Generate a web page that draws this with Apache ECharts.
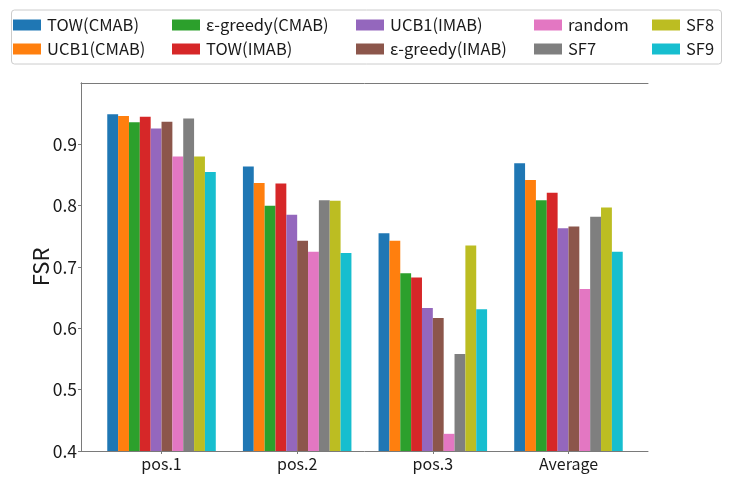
<!DOCTYPE html>
<html>
<head>
<meta charset="utf-8">
<script src="https://cdn.jsdelivr.net/npm/echarts@6/dist/echarts.min.js"></script>
<style>html,body{margin:0;padding:0;background:#fff;}#c{width:731px;height:483px;}</style>
</head>
<body>
<div id="c"></div>
<script>
const categories = ['pos.1', 'pos.2', 'pos.3', 'Average'];
const seriesNames = ['TOW(CMAB)', 'UCB1(CMAB)', 'ε-greedy(CMAB)', 'TOW(IMAB)', 'UCB1(IMAB)', 'ε-greedy(IMAB)', 'random', 'SF7', 'SF8', 'SF9'];
const colors = ['#1f77b4', '#ff7f0e', '#2ca02c', '#d62728', '#9467bd', '#8c564b', '#e377c2', '#7f7f7f', '#bcbd22', '#17becf'];
const towCMAB    = [0.949, 0.864, 0.755, 0.869];
const ucb1CMAB   = [0.946, 0.837, 0.743, 0.842];
const egreedyCMAB= [0.936, 0.800, 0.690, 0.809];
const towIMAB    = [0.945, 0.836, 0.683, 0.821];
const ucb1IMAB   = [0.926, 0.785, 0.633, 0.763];
const egreedyIMAB= [0.937, 0.743, 0.617, 0.766];
const randomSel  = [0.880, 0.725, 0.428, 0.664];
const sf7        = [0.942, 0.809, 0.558, 0.782];
const sf8        = [0.880, 0.808, 0.735, 0.797];
const sf9        = [0.855, 0.723, 0.631, 0.725];
const seriesData = [towCMAB, ucb1CMAB, egreedyCMAB, towIMAB, ucb1IMAB, egreedyIMAB, randomSel, sf7, sf8, sf9];
const yTicks = [0.4, 0.5, 0.6, 0.7, 0.8, 0.9];

const FONT = '"Noto Sans CJK JP", sans-serif';
const TXT = '#1a1a1a';
const FRAME = '#7a7a7a';

const chart = echarts.init(document.getElementById('c'));

const legendLefts = [13, 172, 356, 534, 652];
const legends = legendLefts.map((l, i) => ({
  orient: 'vertical',
  left: l,
  top: 16,
  padding: 0,
  itemWidth: 28,
  itemHeight: 11,
  itemGap: 6,
  icon: 'rect',
  textStyle: { fontFamily: FONT, fontSize: 16.5, color: TXT, lineHeight: 18, padding: [0, 0, 0, 1] },
  data: [seriesNames[2 * i], seriesNames[2 * i + 1]],
  selectedMode: false
}));

chart.setOption({
  animation: false,
  textStyle: { fontFamily: FONT },
  graphic: [{
    type: 'rect', z: -1,
    shape: { x: 11.5, y: 10, width: 710, height: 54, r: 3 },
    style: { fill: '#fff', stroke: '#cccccc', lineWidth: 1 }
  }],
  legend: legends,
  grid: [
    { left: 81, right: 83, top: 83, bottom: 32 },
    { left: 93.7, right: 94.7, top: 83, bottom: 32 }
  ],
  xAxis: [
    { gridIndex: 0, type: 'value', min: 0, max: 1, position: 'bottom',
      axisLine: { show: true, lineStyle: { color: FRAME, width: 1 } },
      axisTick: { show: false }, axisLabel: { show: false }, splitLine: { show: false } },
    { gridIndex: 0, type: 'value', min: 0, max: 1, position: 'top',
      axisLine: { show: true, lineStyle: { color: FRAME, width: 1 } },
      axisTick: { show: false }, axisLabel: { show: false }, splitLine: { show: false } },
    { gridIndex: 1, type: 'category', data: categories, position: 'bottom',
      axisLine: { show: false },
      axisTick: { show: true, alignWithLabel: true, length: 3, lineStyle: { color: FRAME } },
      axisLabel: { fontFamily: FONT, fontSize: 16, color: TXT, margin: 5 } }
  ],
  yAxis: [
    { gridIndex: 0, type: 'value', min: 0.4, max: 1.0, interval: 0.1, position: 'left',
      name: 'FSR', nameLocation: 'middle', nameGap: 29, nameMoveOverlap: false,
      nameTextStyle: { fontFamily: FONT, fontSize: 22, color: TXT },
      axisLine: { show: true, lineStyle: { color: FRAME, width: 1 } },
      axisTick: { show: true, length: 3, lineStyle: { color: FRAME }, customValues: yTicks },
      axisLabel: { fontFamily: FONT, fontSize: 17.5, color: TXT, margin: 4, customValues: yTicks,
        formatter: v => (Math.round(v * 10) / 10).toFixed(1) },
      splitLine: { show: false } },
    { gridIndex: 0, type: 'value', min: 0.4, max: 1.0, position: 'right',
      axisLine: { show: true, lineStyle: { color: FRAME, width: 1 } },
      axisTick: { show: false }, axisLabel: { show: false }, splitLine: { show: false } },
    { gridIndex: 1, type: 'value', min: 0.4, max: 1.0, show: false }
  ],
  series: seriesNames.map((n, i) => ({
    name: n, type: 'bar', xAxisIndex: 2, yAxisIndex: 2,
    data: seriesData[i],
    barGap: '0%', barCategoryGap: '20%',
    itemStyle: { color: colors[i] }
  }))
});
</script>
</body>
</html>
